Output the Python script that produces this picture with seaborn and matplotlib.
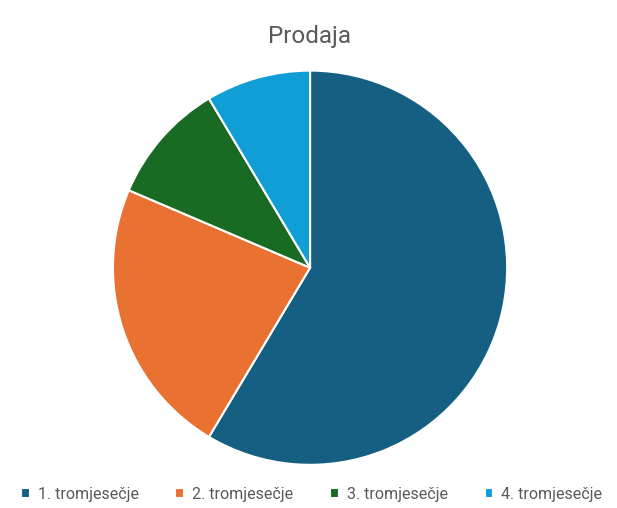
import matplotlib
matplotlib.use("Agg")
import matplotlib.pyplot as plt
import seaborn as sns

# podaci s grafikona
kategorije = ["1. tromjesečje", "2. tromjesečje", "3. tromjesečje", "4. tromjesečje"]
prodaja = [8.2, 3.2, 1.4, 1.2]
boje = ["#156082", "#E97132", "#196B24", "#0F9ED5"]

sns.set_theme(style="white")
plt.rcParams["font.family"] = ["Roboto", "DejaVu Sans"]

fig = plt.figure(figsize=(6.17, 5.08), dpi=100)
ax = fig.add_axes([0.183, 0.085, 0.639, 0.776])

wedges, _ = ax.pie(prodaja, colors=sns.color_palette(boje), startangle=90,
                   counterclock=False,
                   wedgeprops=dict(edgecolor="white", linewidth=1.5))
ax.set_aspect("equal")
ax.set_xlim(-1.0, 1.0)
ax.set_ylim(-1.0, 1.0)

fig.text(0.502, 0.928, "Prodaja", ha="center", va="center",
         fontsize=17.5, color="#595959")

fig.legend(wedges, kategorije, loc="center", bbox_to_anchor=(0.505, 0.027),
           ncol=4, frameon=False, fontsize=11.5, labelcolor="#595959",
           handlelength=0.55, handleheight=0.55, handletextpad=0.5,
           columnspacing=2.3)

fig.savefig("out.png", dpi=100)
